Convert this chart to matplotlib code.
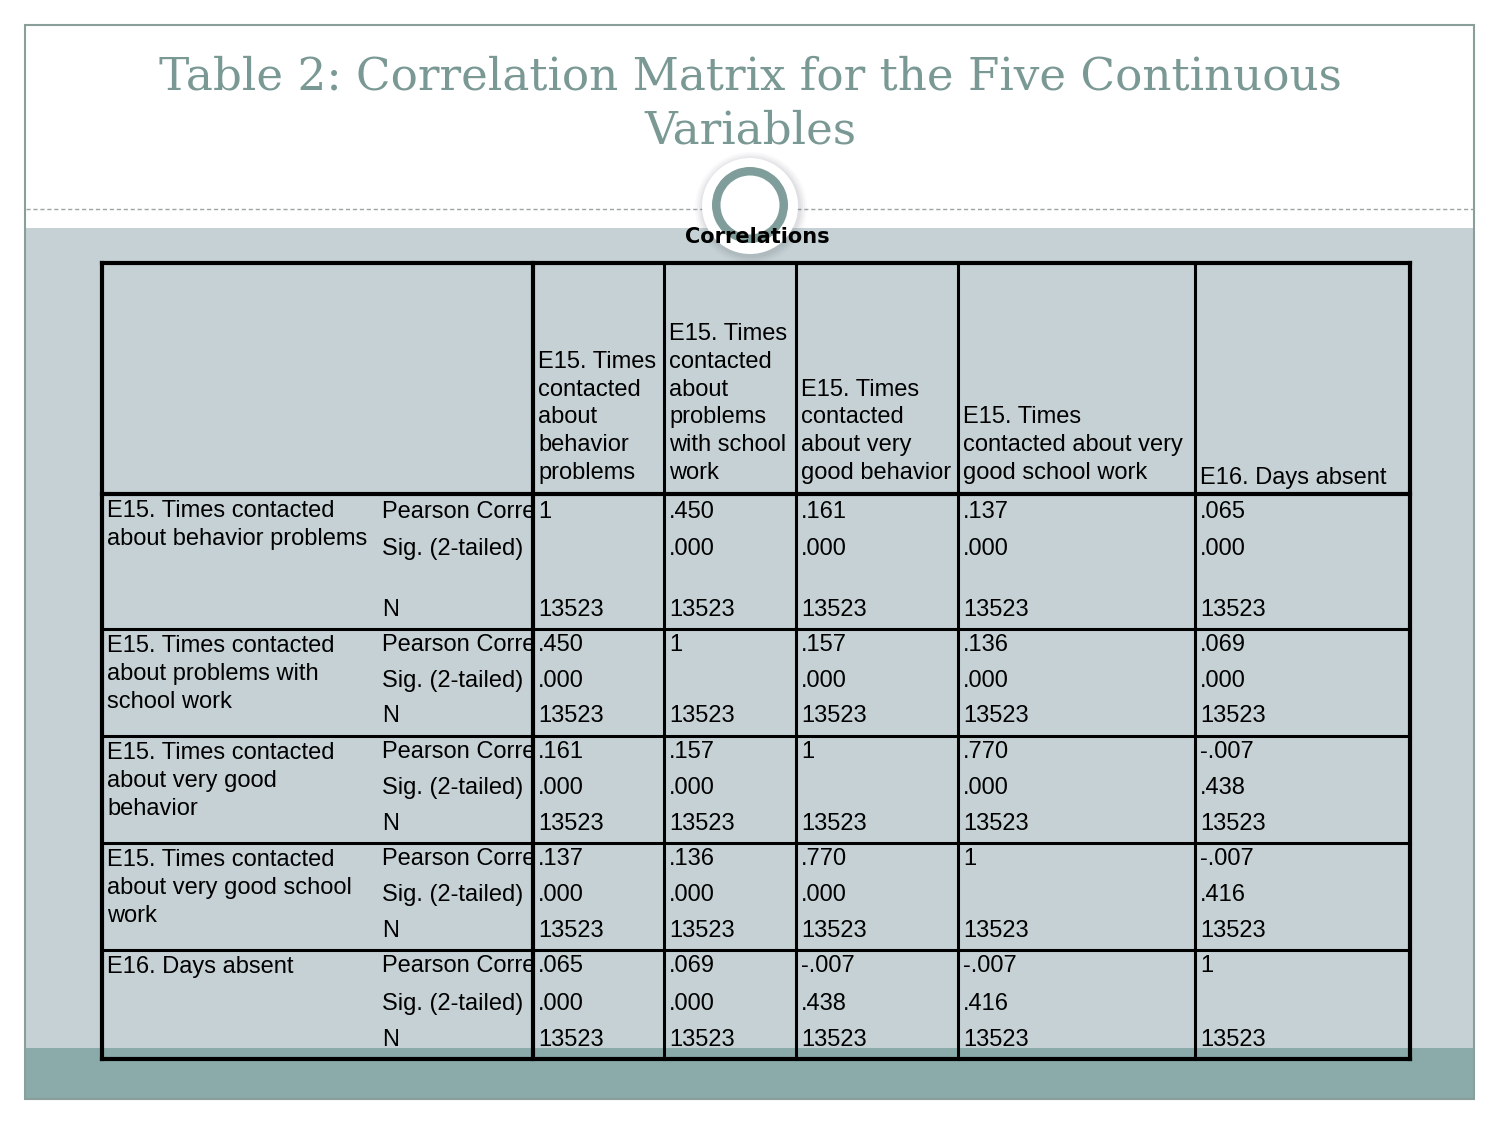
# Correlation matrix slide (SPSS-style table) drawn with matplotlib
import matplotlib.pyplot as plt
from matplotlib.patches import Rectangle, Circle, Wedge

title = 'Table 2: Correlation Matrix for the Five Continuous\nVariables'

col_headers = ['E15. Times\ncontacted\nabout\nbehavior\nproblems',
               'E15. Times\ncontacted\nabout\nproblems\nwith school\nwork',
               'E15. Times\ncontacted\nabout very\ngood behavior',
               'E15. Times\ncontacted about very\ngood school work',
               'E16. Days absent']
row_labels = ['E15. Times contacted\nabout behavior problems',
              'E15. Times contacted\nabout problems with\nschool work',
              'E15. Times contacted\nabout very good\nbehavior',
              'E15. Times contacted\nabout very good school\nwork',
              'E16. Days absent']
# first stat label is cut off by the column border in the original table
stat_labels = ['Pearson Corre', 'Sig. (2-tailed)', 'N']

corr = [[1, .450, .161, .137, .065],
        [.450, 1, .157, .136, .069],
        [.161, .157, 1, .770, -.007],
        [.137, .136, .770, 1, -.007],
        [.065, .069, -.007, -.007, 1]]
sig = [[None, .000, .000, .000, .000],
       [.000, None, .000, .000, .000],
       [.000, .000, None, .000, .438],
       [.000, .000, .000, None, .416],
       [.000, .000, .438, .416, None]]
n_obs = [[13523] * 5 for _ in range(5)]


def fmt(v):
    if v is None:
        return ''
    if v == 1:
        return '1'
    s = '%.3f' % v
    return s.replace('0.', '.', 1)


fig = plt.figure(figsize=(15, 11.25), dpi=100)
ax = fig.add_axes([0, 0, 1, 1])
ax.set_xlim(0, 1500)
ax.set_ylim(1125, 0)
ax.axis('off')

# slide background pieces
ax.add_patch(Rectangle((25, 228), 1449, 820, facecolor='#c5d1d5', edgecolor='none', zorder=0))
ax.add_patch(Rectangle((25, 1048), 1449, 51, facecolor='#8aabaa', edgecolor='none', zorder=0))
ax.add_patch(Rectangle((25, 25), 1449, 1074, facecolor='none', edgecolor='#8a9e9a', lw=1.5, zorder=5))
ax.plot([26, 1473], [209, 209], ls=(0, (3, 2)), color='#9aa5a5', lw=1, zorder=1)

ax.text(750, 104, title, ha='center', va='center', family='DejaVu Serif',
        fontsize=32.6, color='#7a9994', linespacing=1.3)

# circle ornament
for r, a in [(56, 0.03), (54, 0.04), (52, 0.05), (50, 0.06)]:
    ax.add_patch(Circle((751, 208), r, facecolor='#556', edgecolor='none', alpha=a, zorder=2))
ax.add_patch(Circle((750, 206), 48, facecolor='white', edgecolor='none', zorder=3))
ax.add_patch(Wedge((750, 205), 38, 0, 360, width=8.5, facecolor='#7f9d9a', edgecolor='none', zorder=4))

ax.text(757, 237, 'Correlations', ha='center', va='center', fontsize=15,
        fontweight='bold', family='DejaVu Sans', color='black', zorder=6)

# table layout
xs = [102, 533, 664, 796, 958, 1195, 1410]
ys = [263, 494, 629, 736, 843, 950, 1059]
stat_x = 382
line_y = [[16, 53, 114], [14, 50, 85], [14, 50, 86], [14, 50, 86], [14, 52, 88]]
font = 'Liberation Sans'
fs = 17
ls = 1.34

for x in xs:
    lw = 3.0 if x in (xs[0], xs[1], xs[-1]) else 2.2
    ax.plot([x, x], [ys[0], ys[-1]], color='black', lw=lw, zorder=6)
for y in ys:
    lw = 3.0 if y in (ys[0], ys[1], ys[-1]) else 2.2
    ax.plot([xs[0], xs[-1]], [y, y], color='black', lw=lw, zorder=6)

for j, h in enumerate(col_headers):
    yb = 489 if j == 4 else 484
    ax.text(xs[j + 1] + 5, yb, h, ha='left', va='bottom', fontsize=fs,
            family=font, linespacing=ls, zorder=7)

clip = Rectangle((xs[0], ys[0]), xs[1] - xs[0] - 1, ys[-1] - ys[0], transform=ax.transData)
for i in range(5):
    top = ys[i + 1]
    ax.text(xs[0] + 5, top + 6, row_labels[i], ha='left', va='top', fontsize=fs,
            family=font, linespacing=ls, zorder=7)
    vals = [corr[i], sig[i], n_obs[i]]
    for k in range(3):
        y = top + line_y[i][k] + 2
        t = ax.text(stat_x, y, stat_labels[k], ha='left', va='center', fontsize=fs,
                    family=font, zorder=7, clip_on=True)
        t.set_clip_path(clip)
        for j in range(5):
            v = vals[k][j]
            s = str(v) if k == 2 else fmt(v)
            ax.text(xs[j + 1] + 5, y, s, ha='left', va='center', fontsize=fs,
                    family=font, zorder=7)

fig.savefig('out.png', dpi=100, facecolor='white')
